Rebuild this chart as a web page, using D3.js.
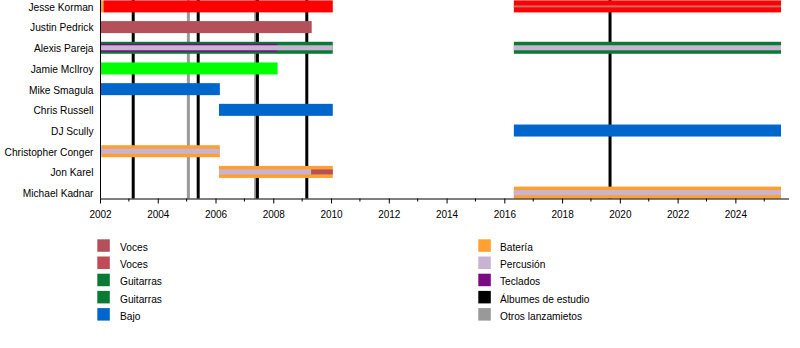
<!DOCTYPE html>
<html><head><meta charset="utf-8">
<script src="https://cdn.jsdelivr.net/npm/d3@7"></script>
<style>
html,body{margin:0;padding:0;background:#fff;}
svg text{font-family:"Liberation Sans",Arial,sans-serif;}
</style></head>
<body><svg id="chart" width="800" height="348"></svg>
<script>
// ---- data ----
const members = ["Jesse Korman","Justin Pedrick","Alexis Pareja","Jamie McIlroy","Mike Smagula","Chris Russell","DJ Scully","Christopher Conger","Jon Karel","Michael Kadnar"];
const yearStart = 2002, yearEnd = 2025.58;
const majorTicks = [2002,2004,2006,2008,2010,2012,2014,2016,2018,2020,2022,2024];
const minorTicks = [2003,2005,2007,2009,2011,2013,2015,2017,2019,2021,2023,2025];
// [member, role, start, end]
const mainBars = [
  ["Jesse Korman","bateria",2002.0,2002.12],
  ["Jesse Korman","vocesLead",2002.12,2010.06],
  ["Jesse Korman","vocesLead",2016.33,2025.58],
  ["Justin Pedrick","voces",2002.0,2009.33],
  ["Alexis Pareja","guitarras",2002.0,2010.06],
  ["Alexis Pareja","guitarras",2016.33,2025.58],
  ["Jamie McIlroy","guitarrasLead",2002.0,2008.15],
  ["Mike Smagula","bajo",2002.0,2006.15],
  ["Chris Russell","bajo",2006.12,2010.06],
  ["DJ Scully","bajo",2016.33,2025.58],
  ["Christopher Conger","percusion",2002.0,2002.07],
  ["Christopher Conger","bateria",2002.07,2006.15],
  ["Jon Karel","bateria",2006.12,2010.06],
  ["Michael Kadnar","bateria",2016.33,2025.58]
];
const wideBands = [
  ["Alexis Pareja","teclados",2002.0,2008.14]
];
const bands = [
  ["Alexis Pareja","percusion",2002.0,2010.06],
  ["Alexis Pareja","percusion",2016.33,2025.58],
  ["Christopher Conger","percusion",2002.07,2006.15],
  ["Jon Karel","percusion",2006.12,2009.31],
  ["Jon Karel","voces",2009.31,2010.06],
  ["Michael Kadnar","percusion",2016.33,2025.58]
];
const thinLines = [
  ["Jesse Korman","vocesThin",2016.33,2025.58]
];
const albumDates = [2003.15,2005.40,2007.45,2009.16,2019.66];
const otherDates = [2005.06,2007.39];
const legendLeft = [["Voces","voces"],["Voces","voces2"],["Guitarras","guitarras"],["Guitarras","guitarras"],["Bajo","bajo"]];
const legendRight = [["Batería","bateria"],["Percusión","percusion"],["Teclados","teclados"],["Álbumes de estudio","album"],["Otros lanzamietos","other"]];

// ---- styles ----
const colors = {
  vocesLead:"#ff0000", voces:"#b4505a", voces2:"#c04a55", vocesThin:"#c86a6e",
  guitarrasLead:"#00ff00", guitarras:"#0a7a35", bajo:"#0066cc",
  bateria:"#ffa030", percusion:"#c8b4d2", teclados:"#7a0a82",
  album:"#000000", other:"#999999"
};

const svg = d3.select("#chart");
const x = d3.scaleLinear().domain([yearStart, yearEnd]).range([100, 781]);
const y = d3.scalePoint().domain(members).range([6.4, 192.6]);
const axisY = 198.5;

// vertical event lines (behind)
const gl = svg.append("g");
gl.selectAll("line.other").data(otherDates).join("line")
  .attr("x1",d=>x(d)).attr("x2",d=>x(d)).attr("y1",0).attr("y2",axisY)
  .attr("stroke",colors.other).attr("stroke-width",3);
gl.selectAll("line.album").data(albumDates).join("line")
  .attr("x1",d=>x(d)).attr("x2",d=>x(d)).attr("y1",0).attr("y2",axisY)
  .attr("stroke",colors.album).attr("stroke-width",3);

function drawBars(data, h){
  svg.append("g").selectAll("rect").data(data).join("rect")
    .attr("x",d=>x(d[2])).attr("width",d=>x(d[3])-x(d[2]))
    .attr("y",d=>y(d[0])-h/2).attr("height",h)
    .attr("fill",d=>colors[d[1]]);
}
drawBars(mainBars, 12);
drawBars(wideBands, 8);
drawBars(bands, 5);
drawBars(thinLines, 2);

// left axis line
svg.append("line").attr("x1",100.5).attr("x2",100.5).attr("y1",0).attr("y2",axisY)
  .attr("stroke","#000").attr("stroke-width",1);

// member labels
svg.append("g").selectAll("text").data(members).join("text")
  .attr("x",93.5).attr("y",d=>y(d)+4.4).attr("text-anchor","end")
  .attr("font-size",10.2).attr("fill","#000").text(d=>d);

// x axis
const axG = svg.append("g").attr("transform",`translate(0,${axisY})`);
axG.call(d3.axisBottom(x).tickValues(majorTicks).tickFormat(d3.format("d")).tickSize(5).tickSizeOuter(0));
axG.select(".domain").attr("stroke","#000");
axG.selectAll(".tick text").attr("font-size",10).attr("font-family","Liberation Sans, Arial, sans-serif").attr("dy","0").attr("y",19.6);
axG.selectAll(".tick line").attr("stroke","#000");
axG.selectAll("line.minor").data(minorTicks.filter(t=>t<=yearEnd)).join("line")
  .attr("class","minor").attr("x1",d=>x(d)).attr("x2",d=>x(d)).attr("y1",0).attr("y2",3).attr("stroke","#000");
axG.select(".domain").attr("d",`M${x(yearStart)},0.5H${x(yearEnd)+8}`);

// legend
function legend(items, sx, tx){
  const g = svg.append("g");
  const ly = d3.scalePoint().domain(d3.range(items.length)).range([245.5, 314.3]);
  g.selectAll("rect").data(items).join("rect")
    .attr("x",sx).attr("y",(d,i)=>ly(i)-6.2).attr("width",12.5).attr("height",12.5)
    .attr("fill",d=>colors[d[1]]);
  g.selectAll("text").data(items).join("text")
    .attr("x",tx).attr("y",(d,i)=>ly(i)+5.5).attr("font-size",10.2).attr("fill","#000").text(d=>d[0]);
}
legend(legendLeft, 97.3, 120);
legend(legendRight, 478.3, 500);
</script></body></html>
